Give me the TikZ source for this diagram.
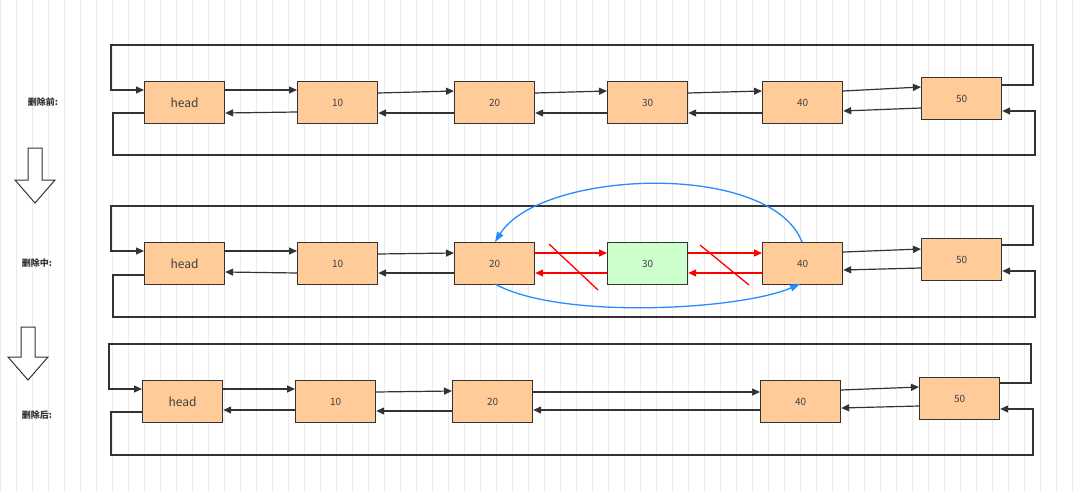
\documentclass[tikz,border=0pt]{standalone}
\usepackage{fontspec}
\setmainfont{Noto Sans CJK SC}
\usetikzlibrary{arrows.meta}
\begin{document}
\begin{tikzpicture}[x=1pt,y=-1pt,
 box/.style={draw=black!80,line width=1.2pt,fill=orange!40!yellow!35!white,fill=boxc,minimum width=80pt,minimum height=42pt,anchor=north west,inner sep=0pt,text=black!75},
 ln/.style={draw=black!80,line width=1.2pt},
 ar/.style={ln,-{Triangle[length=8pt,width=7pt]}},
 rd/.style={draw=red,line width=1.3pt,-{Triangle[length=8pt,width=7pt]}},
 bl/.style={draw=blue!50!cyan!80!black,draw={rgb,255:red,40;green,140;blue,255},line width=1.3pt,-{Triangle[length=10pt,width=7pt]}},
 lab/.style={font=\bfseries\small,text=black!80}]
\definecolor{boxc}{RGB}{255,204,153}
\useasboundingbox (0,0) rectangle (1073,492);
\fill[white] (0,0) rectangle (1073,492);
\draw[black!8,step=16] (0,0) grid (1073,492);
% arrows
\node[lab] (l1) at (43,102) {删除前:};
\node[lab] (l2) at (37,263) {删除中:};
\node[lab] (l3) at (37,415) {删除后:};
\draw[ln,line width=1pt,fill=white] (28,148) -- (42,148) -- (42,180) -- (55,180) -- (35,203) -- (15,180) -- (28,180) -- cycle;
\draw[ln,line width=1pt,fill=white] (21,327) -- (35,327) -- (35,357) -- (48,357) -- (28,380) -- (8,357) -- (21,357) -- cycle;
% row 1
\node[box,font=\large] (ah) at (144,81) {head};
\node[box] (a1) at (297,81) {10};
\node[box] (a2) at (454,81) {20};
\node[box] (a3) at (607,81) {30};
\node[box] (a4) at (762,81) {40};
\node[box] (a5) at (921,77) {50};
% row 2
\node[box,font=\large] (bh) at (144,242) {head};
\node[box] (b1) at (297,242) {10};
\node[box] (b2) at (454,242) {20};
\node[box,fill={rgb,255:red,204;green,255;blue,204}] (b3) at (607,242) {30};
\node[box] (b4) at (762,242) {40};
\node[box] (b5) at (921,238) {50};
% row 3
\node[box,font=\large] (ch) at (142,380) {head};
\node[box] (c1) at (295,380) {10};
\node[box] (c2) at (452,380) {20};
\node[box] (c4) at (760,380) {40};
\node[box] (c5) at (919,377) {50};
% row1 links
\draw[ar] (ah.east|-0,90) -- (a1.west|-0,90);
\draw[ar] (a1.east|-0,93) -- (a2.west|-0,91);
\draw[ar] (a2.east|-0,93) -- (a3.west|-0,91);
\draw[ar] (a3.east|-0,93) -- (a4.west|-0,91);
\draw[ar] (a4.east|-0,91) -- (a5.west|-0,87);
\draw[ar] (a1.west|-0,112) -- (ah.east|-0,113);
\draw[ar] (a2.west|-0,113) -- (a1.east|-0,113);
\draw[ar] (a3.west|-0,113) -- (a2.east|-0,113);
\draw[ar] (a4.west|-0,113) -- (a3.east|-0,113);
\draw[ar] (a5.west|-0,108) -- (a4.east|-0,111);
\draw[ar] (a5.east|-0,85) -- (1033,85) -- (1033,45) -- (111,45) -- (111,90) -- (ah.west|-0,90);
\draw[ar] (ah.west|-0,113) -- (113,113) -- (113,155) -- (1035,155) -- (1035,111) -- (a5.east|-0,111);
% row2 links
\draw[ar] (bh.east|-0,251) -- (b1.west|-0,251);
\draw[ar] (b1.east|-0,254) -- (b2.west|-0,253);
\draw[ar] (b1.west|-0,273) -- (bh.east|-0,272);
\draw[ar] (b2.west|-0,273) -- (b1.east|-0,273);
\draw[ar] (b4.east|-0,252) -- (b5.west|-0,249);
\draw[ar] (b5.west|-0,268) -- (b4.east|-0,270);
\draw[ar] (b5.east|-0,245) -- (1033,245) -- (1033,206) -- (111,206) -- (111,251) -- (bh.west|-0,251);
\draw[ar] (bh.west|-0,275) -- (113,275) -- (113,317) -- (1035,317) -- (1035,271) -- (b5.east|-0,271);
\draw[rd] (b2.east|-0,253) -- (b3.west|-0,253);
\draw[rd] (b3.west|-0,273) -- (b2.east|-0,273);
\draw[rd] (b3.east|-0,253) -- (b4.west|-0,253);
\draw[rd] (b4.west|-0,273) -- (b3.east|-0,273);
\draw[red,line width=1.3pt] (549,244) -- (598,290);
\draw[red,line width=1.3pt] (700,245) -- (749,285);
\draw[bl] (802,242) .. controls (770,160) and (540,170) .. (495,242);
\draw[bl] (495,284) .. controls (560,320) and (740,310) .. (800,284);
% row3 links
\draw[ar] (ch.east|-0,389) -- (c1.west|-0,389);
\draw[ar] (c1.east|-0,392) -- (c2.west|-0,391);
\draw[ar] (c2.east|-0,392) -- (c4.west|-0,392);
\draw[ar] (c4.east|-0,390) -- (c5.west|-0,387);
\draw[ar] (c1.west|-0,410) -- (ch.east|-0,410);
\draw[ar] (c2.west|-0,411) -- (c1.east|-0,411);
\draw[ar] (c4.west|-0,410) -- (c2.east|-0,410);
\draw[ar] (c5.west|-0,406) -- (c4.east|-0,408);
\draw[ar] (c5.east|-0,383) -- (1031,383) -- (1031,344) -- (109,344) -- (109,389) -- (ch.west|-0,389);
\draw[ar] (ch.west|-0,412) -- (111,412) -- (111,455) -- (1033,455) -- (1033,409) -- (c5.east|-0,409);
\end{tikzpicture}
\end{document}
